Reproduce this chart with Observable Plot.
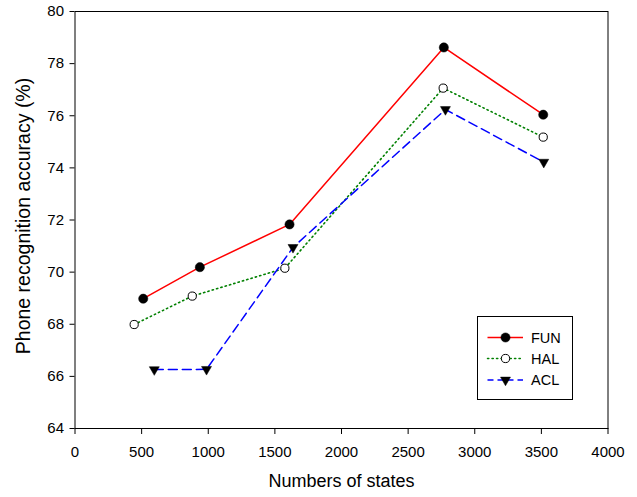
<!DOCTYPE html>
<html>
<head>
<meta charset="utf-8">
<script src="https://cdn.jsdelivr.net/npm/d3@7"></script>
<script src="https://cdn.jsdelivr.net/npm/@observablehq/plot@0.6"></script>
<style>
  html, body { margin: 0; padding: 0; background: #fff; }
  #chart { position: relative; width: 637px; height: 497px; }
  svg { font-family: "Liberation Sans", Arial, sans-serif; }
</style>
</head>
<body>
<div id="chart"></div>
<script>
// Data
const seriesNames = ["FUN", "HAL", "ACL"];
const funX = [512, 937, 1610, 2768, 3514];
const funY = [68.98, 70.19, 71.83, 78.62, 76.04];
const halX = [444, 880, 1575, 2763, 3514];
const halY = [67.99, 69.08, 70.15, 77.06, 75.18];
const aclX = [595, 987, 1636, 2780, 3518];
const aclY = [66.26, 66.27, 70.95, 76.24, 74.22];
const xTicks = [0, 500, 1000, 1500, 2000, 2500, 3000, 3500, 4000];
const yTicks = [64, 66, 68, 70, 72, 74, 76, 78, 80];
const xTitle = "Numbers of states";
const yTitle = "Phone recognition accuracy (%)";

const toRows = (xs, ys, s) => xs.map((x, i) => ({x, y: ys[i], s}));
const fun = toRows(funX, funY, "FUN");
const hal = toRows(halX, halY, "HAL");
const acl = toRows(aclX, aclY, "ACL");

const styles = {
  FUN: {stroke: "#ff0000", symbol: "circle", fill: "black", r: 4.6},
  HAL: {stroke: "#008000", symbol: "circle", fill: "white", r: 4.1},
  ACL: {stroke: "#0000ff", symbol: "triangle", fill: "black", r: 3.7}
};

const plot = Plot.plot({
  width: 637,
  height: 497,
  marginLeft: 74.5,
  marginRight: 29.5,
  marginTop: 11,
  marginBottom: 69,
  style: {fontFamily: "'Liberation Sans', Arial, sans-serif", background: "white", overflow: "visible"},
  x: {domain: [0, 4000]},
  y: {domain: [64, 80]},
  marks: [
    Plot.axisX({ticks: xTicks, tickSize: 6, tickPadding: 12, fontSize: 15, label: null, tickFormat: d => String(d), stroke: "black", color: "black"}),
    Plot.axisY({ticks: yTicks, tickSize: 5, tickPadding: 6, fontSize: 15, label: null, tickFormat: d => String(d), stroke: "black", color: "black"}),
    Plot.frame({stroke: "black", strokeWidth: 1}),
    Plot.line(hal, {x: "x", y: "y", stroke: styles.HAL.stroke, strokeWidth: 1.6, strokeDasharray: "1.3,3.2", strokeLinecap: "round"}),
    Plot.line(acl, {x: "x", y: "y", stroke: styles.ACL.stroke, strokeWidth: 1.5, strokeDasharray: "9,5"}),
    Plot.line(fun, {x: "x", y: "y", stroke: styles.FUN.stroke, strokeWidth: 1.5}),
    Plot.dot(fun, {x: "x", y: "y", r: styles.FUN.r, fill: "black", stroke: "black", strokeWidth: 0.5}),
    Plot.dot(hal, {x: "x", y: "y", r: styles.HAL.r, fill: "white", stroke: "black", strokeWidth: 1}),
    Plot.dot(acl, {x: "x", y: "y", r: styles.ACL.r, symbol: "triangle", rotate: 180, fill: "black", stroke: "black", strokeWidth: 0.5}),
    Plot.text([xTitle], {frameAnchor: "bottom", textAnchor: "middle", dy: 58, fontSize: 18, fill: "black"}),
    Plot.text([yTitle], {frameAnchor: "left", textAnchor: "middle", rotate: -90, dx: -51, dy: -4, fontSize: 19.5, fill: "black"})
  ]
});

document.getElementById("chart").appendChild(plot);

// Legend (drawn in the SVG, lower right inside the frame)
const svg = d3.select(plot);
const lg = svg.append("g").attr("font-family", "'Liberation Sans', Arial, sans-serif");
lg.append("rect")
  .attr("x", 477.5).attr("y", 316.5).attr("width", 95).attr("height", 83)
  .attr("fill", "white").attr("stroke", "black").attr("stroke-width", 1);
const rowY = [337.5, 358.5, 380];
seriesNames.forEach((name, i) => {
  const st = styles[name];
  const y = rowY[i];
  lg.append("line")
    .attr("x1", 487.5).attr("x2", 523).attr("y1", y).attr("y2", y)
    .attr("stroke", st.stroke).attr("stroke-width", 1.5)
    .attr("stroke-dasharray", name === "HAL" ? "1.3,3.2" : name === "ACL" ? "6,4" : null)
    .attr("stroke-linecap", name === "HAL" ? "round" : null);
  if (st.symbol === "circle") {
    lg.append("circle").attr("cx", 505.5).attr("cy", y).attr("r", st.r)
      .attr("fill", st.fill).attr("stroke", "black").attr("stroke-width", name === "HAL" ? 1 : 0.5);
  } else {
    lg.append("path")
      .attr("d", d3.symbol(d3.symbolTriangle, Math.PI * st.r * st.r)())
      .attr("transform", `translate(505.5,${y}) rotate(180)`)
      .attr("fill", "black").attr("stroke", "black").attr("stroke-width", 0.5);
  }
  lg.append("text")
    .attr("x", 531).attr("y", y).attr("dy", "0.36em")
    .attr("text-anchor", "start")
    .attr("font-size", 14.5).attr("fill", "black")
    .text(name);
});
</script>
</body>
</html>
